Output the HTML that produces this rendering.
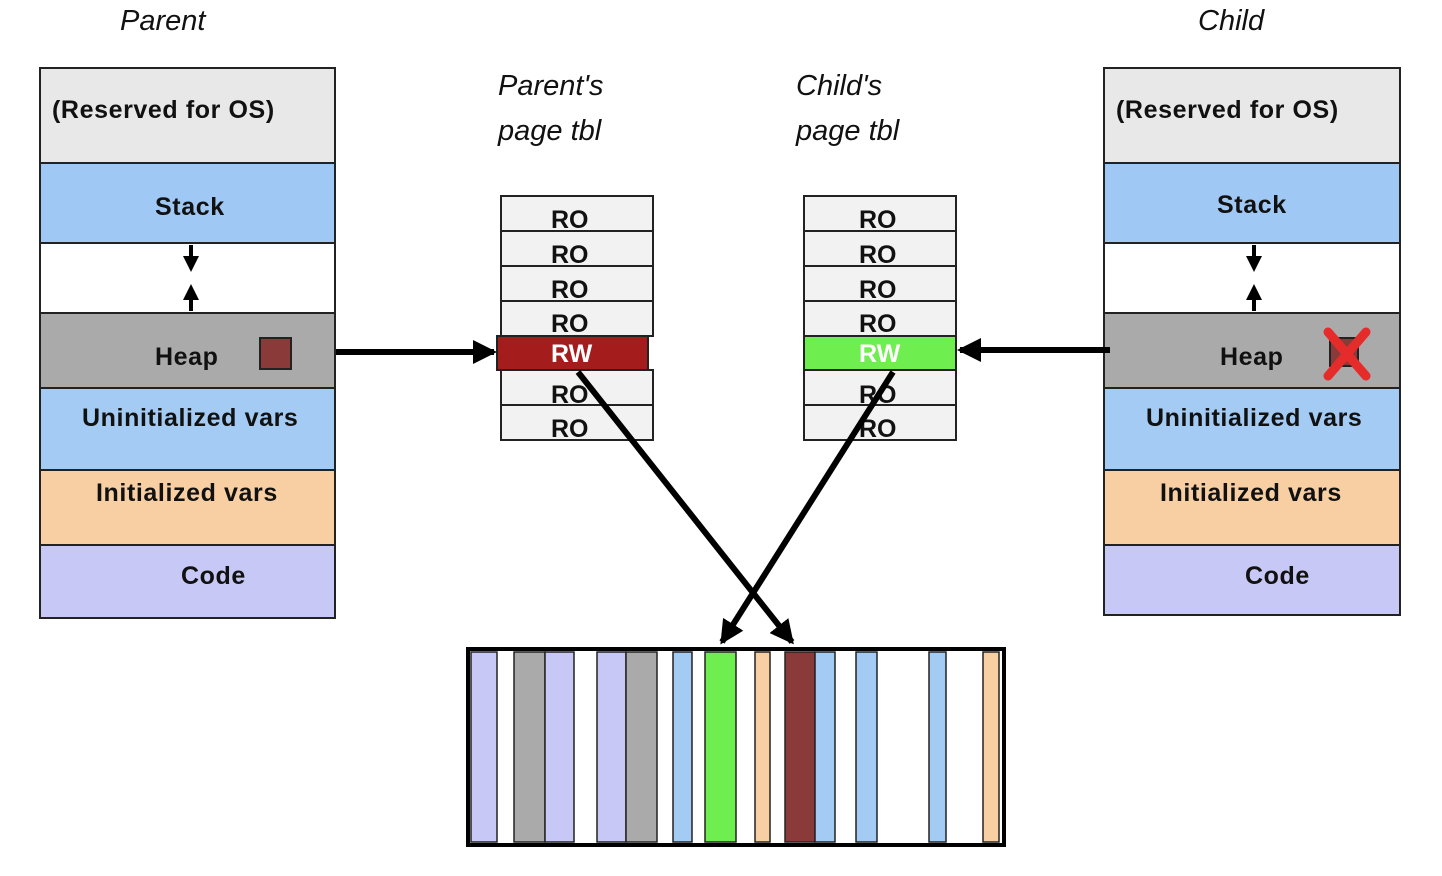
<!DOCTYPE html>
<html><head><meta charset="utf-8"><style>
html,body{margin:0;padding:0;background:#fff;width:1442px;height:876px;overflow:hidden}
svg{display:block}
text{font-family:"Liberation Sans",sans-serif;font-size:25px;fill:#111}
.it{font-style:italic;font-size:29px}
.b{font-weight:bold;font-size:26px;letter-spacing:0.6px}
</style></head><body>
<svg width="1442" height="876" viewBox="0 0 1442 876">
<defs><marker id="ah" markerWidth="4" markerHeight="4" refX="3" refY="2" orient="auto" markerUnits="strokeWidth"><path d="M0,0 L4,2 L0,4 z" fill="#000"/></marker>
<marker id="sa" markerWidth="4" markerHeight="4" refX="3.5" refY="2" orient="auto" markerUnits="strokeWidth"><path d="M0,0 L4,2 L0,4 z" fill="#000"/></marker></defs>
<text x="120" y="30" class="it">Parent</text>
<text x="1198" y="30" class="it">Child</text>
<text x="498" y="95" class="it">Parent's</text>
<text x="498" y="140" class="it">page tbl</text>
<text x="796" y="95" class="it">Child's</text>
<text x="796" y="140" class="it">page tbl</text>

<g stroke="#222" stroke-width="2">
<rect x="40" y="68" width="295" height="95" fill="#e8e8e8"/>
<rect x="40" y="163" width="295" height="80" fill="#9fc8f5"/>
<rect x="40" y="243" width="295" height="70" fill="#fff"/>
<rect x="40" y="313" width="295" height="75" fill="#aaaaaa"/>
<rect x="40" y="388" width="295" height="82" fill="#a4cbf4"/>
<rect x="40" y="470" width="295" height="75" fill="#f8cfa2"/>
<rect x="40" y="545" width="295" height="73" fill="#c8c8f6"/>
<rect x="1104" y="68" width="296" height="95" fill="#e8e8e8"/>
<rect x="1104" y="163" width="296" height="80" fill="#9fc8f5"/>
<rect x="1104" y="243" width="296" height="70" fill="#fff"/>
<rect x="1104" y="313" width="296" height="75" fill="#aaaaaa"/>
<rect x="1104" y="388" width="296" height="82" fill="#a4cbf4"/>
<rect x="1104" y="470" width="296" height="75" fill="#f8cfa2"/>
<rect x="1104" y="545" width="296" height="70" fill="#c8c8f6"/>
<rect x="260" y="338" width="31" height="31" fill="#8b3a3a"/>
</g>
<g class="b">
<text x="52" y="118">(Reserved for OS)</text>
<text x="155" y="215">Stack</text>
<text x="155" y="365">Heap</text>
<text x="82" y="426">Uninitialized vars</text>
<text x="96" y="501">Initialized vars</text>
<text x="181" y="584">Code</text>
<text x="1116" y="118">(Reserved for OS)</text>
<text x="1217" y="213">Stack</text>
<text x="1220" y="365">Heap</text>
<text x="1146" y="426">Uninitialized vars</text>
<text x="1160" y="501">Initialized vars</text>
<text x="1245" y="584">Code</text>
</g>
<g stroke="#000" stroke-width="4">
<line x1="191" y1="245" x2="191" y2="268" marker-end="url(#ah)"/>
<line x1="191" y1="311" x2="191" y2="288" marker-end="url(#ah)"/>
<line x1="1254" y1="245" x2="1254" y2="268" marker-end="url(#ah)"/>
<line x1="1254" y1="311" x2="1254" y2="288" marker-end="url(#ah)"/>
</g>
<rect x="1330" y="338" width="28" height="28" fill="#8b3a3a" stroke="#222" stroke-width="2"/>
<g stroke="#e62b2b" stroke-width="9" stroke-linecap="round">
<line x1="1328" y1="332" x2="1366" y2="376"/><line x1="1366" y1="332" x2="1328" y2="376"/>
</g>
<g stroke="#222" stroke-width="2" fill="#f2f2f2">
<rect x="501" y="196" width="152" height="35"/><rect x="501" y="231" width="152" height="35"/>
<rect x="501" y="266" width="152" height="35"/><rect x="501" y="301" width="152" height="35"/>
<rect x="501" y="370" width="152" height="35"/><rect x="501" y="405" width="152" height="35"/>
<rect x="497" y="336" width="151" height="34" fill="#a51c1c"/>
<rect x="804" y="196" width="152" height="35"/><rect x="804" y="231" width="152" height="35"/>
<rect x="804" y="266" width="152" height="35"/><rect x="804" y="301" width="152" height="35"/>
<rect x="804" y="370" width="152" height="35"/><rect x="804" y="405" width="152" height="35"/>
<rect x="804" y="336" width="152" height="34" fill="#6fee4f"/>
</g>
<g class="b" style="font-size:24px;letter-spacing:0">
<text x="551" y="228">RO</text><text x="551" y="263">RO</text><text x="551" y="298">RO</text><text x="551" y="332">RO</text>
<text x="551" y="403">RO</text><text x="551" y="437">RO</text>
<text x="551" y="362" style="fill:#fff">RW</text>
<text x="859" y="228">RO</text><text x="859" y="263">RO</text><text x="859" y="298">RO</text><text x="859" y="332">RO</text>
<text x="859" y="403">RO</text><text x="859" y="437">RO</text>
<text x="859" y="362" style="fill:#fff">RW</text>
</g>
<g stroke="#000" stroke-width="6" fill="none">
<line x1="336" y1="352" x2="494" y2="352" marker-end="url(#sa)"/>
<line x1="1110" y1="350" x2="960" y2="350" marker-end="url(#sa)"/>
<line x1="578" y1="372" x2="792" y2="642" marker-end="url(#sa)"/>
<line x1="893" y1="372" x2="722" y2="642" marker-end="url(#sa)"/>
</g>
<rect x="468" y="649" width="536" height="196" fill="#fff" stroke="#000" stroke-width="4"/>
<g stroke="#222" stroke-width="1.5">
<rect x="471" y="652" width="26" height="190" fill="#c8c8f6"/>
<rect x="514" y="652" width="31" height="190" fill="#aaaaaa"/>
<rect x="545" y="652" width="29" height="190" fill="#c8c8f6"/>
<rect x="597" y="652" width="29" height="190" fill="#c8c8f6"/>
<rect x="626" y="652" width="31" height="190" fill="#aaaaaa"/>
<rect x="673" y="652" width="19" height="190" fill="#a4cbf4"/>
<rect x="705" y="652" width="31" height="190" fill="#6fee4f"/>
<rect x="755" y="652" width="15" height="190" fill="#f8cfa2"/>
<rect x="785" y="652" width="30" height="190" fill="#8b3a3a"/>
<rect x="815" y="652" width="20" height="190" fill="#a4cbf4"/>
<rect x="856" y="652" width="21" height="190" fill="#a4cbf4"/>
<rect x="929" y="652" width="17" height="190" fill="#a4cbf4"/>
<rect x="983" y="652" width="16" height="190" fill="#f8cfa2"/>
</g>
</svg>
</body></html>
